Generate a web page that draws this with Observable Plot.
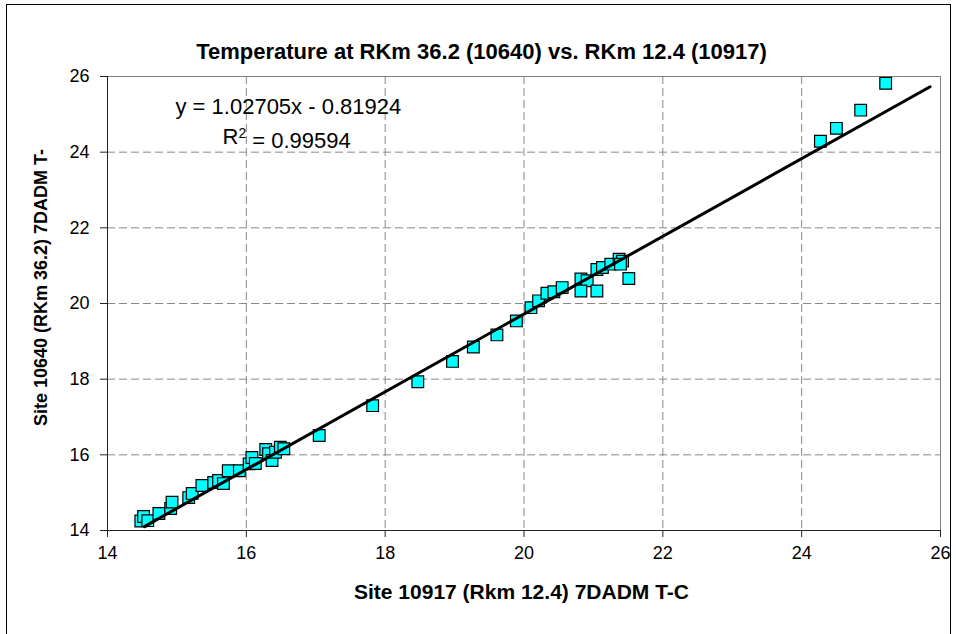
<!DOCTYPE html>
<html>
<head>
<meta charset="utf-8">
<script src="https://cdn.jsdelivr.net/npm/d3@7"></script>
<script src="https://cdn.jsdelivr.net/npm/@observablehq/plot@0.6"></script>
<style>
  html, body { margin: 0; padding: 0; background: white; }
  #wrap { position: relative; width: 956px; height: 634px; overflow: hidden; }
  #border { position: absolute; left: 6px; top: 4px; width: 943px; height: 640px; border: 1px solid black; pointer-events: none; }
</style>
</head>
<body>
<div id="wrap"><div id="chart"></div><div id="border"></div></div>
<script>
const siteX = [14.48,14.52,14.58,14.74,14.91,14.93,15.17,15.22,15.36,15.53,15.60,15.67,15.74,15.90,16.04,16.08,16.13,16.28,16.32,16.37,16.42,16.49,16.54,17.05,17.82,18.47,18.97,19.27,19.61,19.89,20.10,20.21,20.33,20.43,20.55,20.82,20.91,20.82,21.05,21.05,21.13,21.25,21.37,21.42,21.39,21.51,24.27,24.50,24.85,25.21];
const siteY = [14.25,14.37,14.26,14.45,14.58,14.75,14.87,14.98,15.19,15.27,15.32,15.24,15.58,15.58,15.76,15.93,15.77,16.14,16.03,15.85,16.07,16.20,16.16,16.51,17.30,17.93,18.47,18.85,19.17,19.54,19.89,20.07,20.27,20.31,20.42,20.65,20.60,20.33,20.33,20.90,20.95,21.04,21.17,21.12,21.04,20.66,24.29,24.63,25.11,25.82];
const axisTicks = [14,16,18,20,22,24,26];
const gridTicks = [16,18,20,22,24];
const slope = 1.02705;
const intercept = -0.81924;
const trendX = [14.53, 25.85];
const titleText = "Temperature at RKm 36.2 (10640) vs. RKm 12.4 (10917)";
const xLabel = "Site 10917 (Rkm 12.4) 7DADM T-C";
const yLabel = "Site 10640 (RKm 36.2) 7DADM T-";
const eqText = "y = 1.02705x - 0.81924";
const r2Parts = ["R", "2", " = 0.99594"];

const points = siteX.map((x, i) => ({x, y: siteY[i]}));
const trend = trendX.map(x => ({x, y: slope * x + intercept}));
const r2Text = r2Parts.join("");

const font = "'Liberation Sans', Arial, sans-serif";
const chart = Plot.plot({
  width: 956,
  height: 634,
  marginLeft: 107,
  marginRight: 16,
  marginTop: 76,
  marginBottom: 104,
  x: {domain: [14, 26]},
  y: {domain: [14, 26]},
  style: {fontFamily: font, fontSize: "16px", color: "black", background: "white"},
  marks: [
    Plot.gridX(gridTicks, {stroke: "#888", strokeOpacity: 1, strokeDasharray: "8,4"}),
    Plot.gridY(gridTicks, {stroke: "#888", strokeOpacity: 1, strokeDasharray: "8,4"}),
    Plot.frame({stroke: "#808080"}),
    Plot.axisX(axisTicks, {tickSize: 7, tickPadding: 9, fontSize: 18, label: null, stroke: "#222"}),
    Plot.axisY(axisTicks, {tickSize: 7, tickPadding: 11, fontSize: 18, label: null, stroke: "#222"}),
    Plot.ruleX([14], {stroke: "#222"}),
    Plot.ruleY([14], {stroke: "#222"}),
    Plot.dot(points, {x: "x", y: "y", symbol: "square", r: 6.6, fill: "#00FFFF", stroke: "black", strokeWidth: 1.2}),
    Plot.line(trend, {x: "x", y: "y", stroke: "black", strokeWidth: 3}),
    Plot.text([titleText], {frameAnchor: "top-left", dx: 374, dy: -33, textAnchor: "middle", fontWeight: "bold", fontSize: 22, fill: "black"}),
    Plot.text([eqText], {frameAnchor: "top-left", dx: 68, dy: 22, textAnchor: "start", fontSize: 22, fill: "black"}),
    Plot.text([r2Text], {frameAnchor: "top-left", dx: 115, dy: 52, textAnchor: "start", fontSize: 22, fill: "black", className: "r2"}),
    Plot.text([xLabel], {frameAnchor: "bottom-left", dx: 414, dy: 68, textAnchor: "middle", fontWeight: "bold", fontSize: 21, fill: "black"}),
    Plot.text([yLabel], {frameAnchor: "left", dx: -66.5, dy: -16, rotate: -90, textAnchor: "middle", fontWeight: "bold", fontSize: 18, fill: "black"})
  ]
});
// superscript 2 in R² label
d3.select(chart).selectAll(".r2 text").each(function() {
  const t = d3.select(this);
  t.text(null);
  t.append("tspan").text(r2Parts[0]);
  t.append("tspan").attr("dy", "-0.45em").attr("font-size", 14).text(r2Parts[1]);
  t.append("tspan").attr("dy", "0.45em").text(r2Parts[2]);
});
document.getElementById("chart").appendChild(chart);
</script>
</body>
</html>
